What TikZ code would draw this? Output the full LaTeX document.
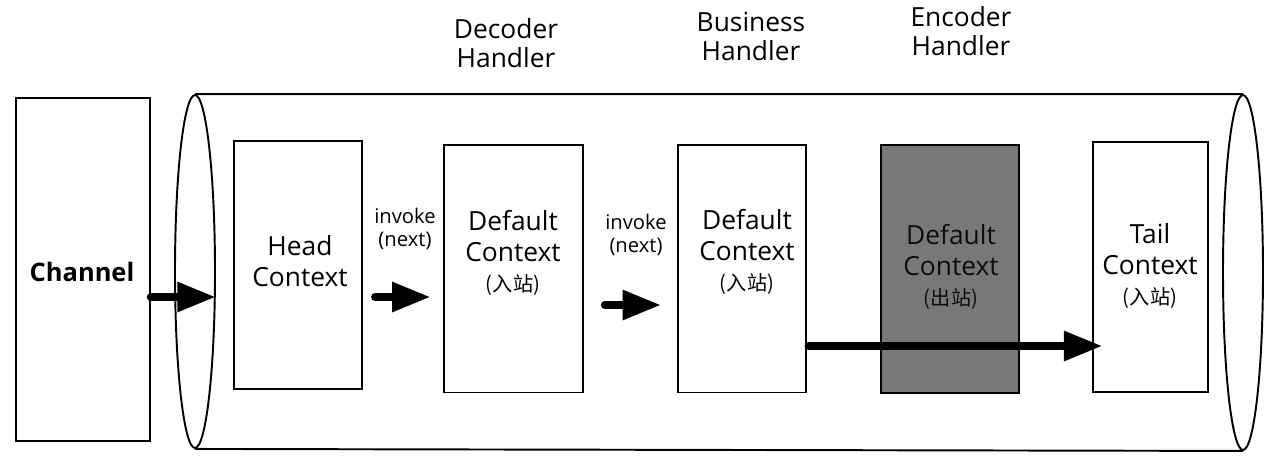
\documentclass[tikz,border=0pt]{standalone}
\usepackage{fontspec}
\setmainfont{Open Sans}
\newfontfamily\cjk{Noto Sans CJK SC}
\usetikzlibrary{arrows.meta, positioning, shapes.geometric}
\newcommand{\dirtag}[1]{{\cjk\fontsize{11.5}{14}\selectfont(#1)}}

\begin{document}
\begin{tikzpicture}[x=0.02cm, y=-0.02cm, line width=1.1pt,
    ctxbox/.style={draw, rectangle, minimum height=4.96cm, inner sep=0pt},
    ctxtext/.style={align=center, font=\fontsize{15}{17.5}\selectfont},
    handlertext/.style={align=center, font=\fontsize{15}{16.5}\selectfont},
    invoketext/.style={align=center, font=\fontsize{11.5}{13.5}\selectfont},
    bigarrow/.style={line width=4.8pt, line cap=round, -{Triangle[length=22pt, width=16pt]}}]
    \useasboundingbox (0,0) rectangle (1286,458);

    % channel and pipeline
    \node[draw, rectangle, minimum width=2.68cm, minimum height=6.86cm, inner sep=0pt] (chan) at (83,269.5) {};
    \node[font=\fontsize{14.5}{17}\selectfont\bfseries] (chantxt) at (82,272) {Channel};
    \node[draw, ellipse, minimum width=0.8cm, minimum height=7.06cm, inner sep=0pt] (lcap) at (195,271.5) {};
    \node[draw, ellipse, minimum width=0.8cm, minimum height=7.1cm, inner sep=0pt] (rcap) at (1243,272.5) {};
    \draw (lcap.north) -- (rcap.north);
    \draw (lcap.south) -- (rcap.south);

    % contexts
    \node[ctxbox, minimum width=2.56cm] (head) at (298,265) {};
    \node[ctxbox, minimum width=2.78cm] (dec) at (513.5,268.5) {};
    \node[ctxbox, minimum width=2.56cm] (biz) at (742,268.5) {};
    \node[ctxbox, minimum width=2.76cm, fill=black!53] (enc) at (950,269) {};
    \node[ctxbox, minimum width=2.3cm, minimum height=5cm] (tail) at (1150.5,267) {};

    \node[ctxtext] (headtxt) at (300,261) {Head\\Context};
    \node[ctxtext] (dectxt) at (513,253) {Default\\Context\\\dirtag{入站}};
    \node[ctxtext] (biztxt) at (747,252) {Default\\Context\\\dirtag{入站}};
    \node[ctxtext, text=black!95] (enctxt) at (951,267) {Default\\Context\\\dirtag{出站}};
    \node[ctxtext] (tailtxt) at (1150,266) {Tail\\Context\\\dirtag{入站}};

    % handler names
    \node[handlertext] (decname) at (506,43) {Decoder\\Handler};
    \node[handlertext] (bizname) at (751,36) {Business\\Handler};
    \node[handlertext] (encname) at (961,31) {Encoder\\Handler};

    \node[invoketext] (inv1) at (405,229) {invoke\\(next)};
    \node[invoketext] (inv2) at (636,235) {invoke\\(next)};

    % arrows
    \coordinate (lvA) at (0,297);
    \coordinate (lvB) at (0,305);
    \coordinate (lvC) at (0,346);
    \draw[bigarrow] (chan.east |- lvA) -- (lcap.east |- lvA);
    \draw[bigarrow, shorten <=7pt, shorten >=7pt] (head.east |- lvA) -- (dec.west |- lvA);
    \draw[bigarrow, shorten <=12pt, shorten >=9pt] (dec.east |- lvB) -- (biz.west |- lvB);
    \draw[bigarrow, shorten <=1pt, shorten >=-6pt] (biz.east |- lvC) -- (tail.west |- lvC);
\end{tikzpicture}
\end{document}
